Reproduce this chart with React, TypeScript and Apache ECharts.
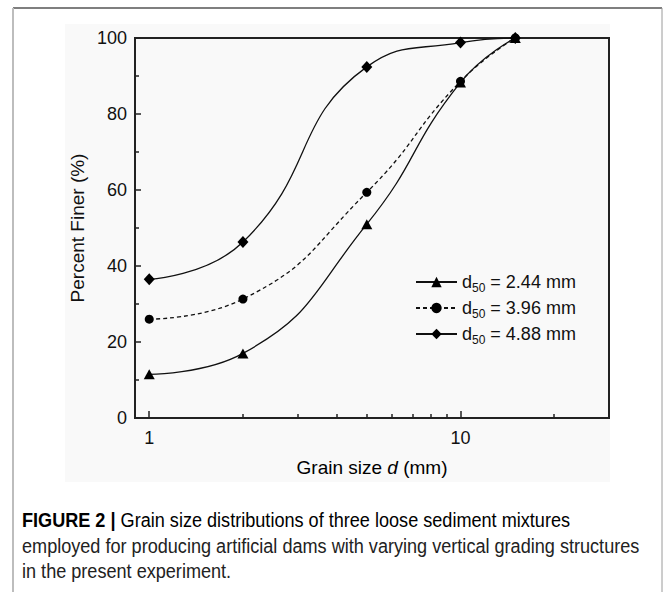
import React, { useEffect, useRef } from "react";
import * as echarts from "echarts";

const grainSizes = [1, 2, 5, 10, 15];
const finer244 = [11.5, 17.0, 51.0, 88.3, 100];
const finer396 = [26.0, 31.3, 59.4, 88.6, 100];
const finer488 = [36.5, 46.3, 92.4, 98.8, 100];
const seriesNames = ["d50 = 2.44 mm", "d50 = 3.96 mm", "d50 = 4.88 mm"];
const legendValues = ["2.44", "3.96", "4.88"];
const xMajorTicks = [1, 10];
const xMinorTicks = [2, 3, 4, 5, 6, 7, 8, 9, 20];
const captionLines = [
  "Grain size distributions of three loose sediment mixtures",
  "employed for producing artificial dams with varying vertical grading structures",
  "in the present experiment.",
];

const FONT = "'Liberation Sans', Arial, Helvetica, sans-serif";
const CAPTION_SCALE_X = 0.905;

export default function App() {
  const ref = useRef<HTMLDivElement>(null);
  useEffect(() => {
    if (!ref.current) return;
    const chart = echarts.init(ref.current, undefined, { renderer: "svg" });
    const toPairs = (vals: number[]) => grainSizes.map((g, i) => [g, vals[i]]);
    const lineCommon = (name: string, vals: number[], symbol: string, size: any, dashed: boolean) => ({
      name,
      type: "line",
      xAxisIndex: 0,
      yAxisIndex: 0,
      data: toPairs(vals),
      smooth: 0.5,
      symbol,
      symbolSize: size,
      itemStyle: { color: "#000" },
      lineStyle: { color: "#111", width: 1.3, type: dashed ? [4, 3] : "solid" },
      z: 3,
    });
    const option: any = {
      animation: false,
      backgroundColor: "#ffffff",
      textStyle: { fontFamily: FONT },
      graphic: [
        { type: "rect", z: -100, silent: true, shape: { x: 65, y: 24, width: 545, height: 458 }, style: { fill: "#f9f9f9" } },
        { type: "line", z: 10, shape: { x1: 13, y1: 8, x2: 662, y2: 8 }, style: { stroke: "#555", lineWidth: 1.5 } },
        { type: "line", z: 10, shape: { x1: 13, y1: 8, x2: 13, y2: 592 }, style: { stroke: "#bdbdbd", lineWidth: 2 } },
        { type: "line", z: 10, shape: { x1: 662, y1: 8, x2: 662, y2: 592 }, style: { stroke: "#9a9a9a", lineWidth: 1 } },
        {
          type: "text",
          x: 77,
          y: 228,
          rotation: Math.PI / 2,
          style: { text: "Percent Finer (%)", font: `19px ${FONT}`, fill: "#111", textAlign: "center", textVerticalAlign: "middle" },
        },
        {
          type: "text",
          x: 372,
          y: 467,
          style: {
            text: "{n|Grain size }{i|d}{n| (mm)}",
            textAlign: "center",
            textVerticalAlign: "middle",
            rich: {
              n: { fontSize: 19, fontFamily: FONT, color: "#111" },
              i: { fontSize: 19, fontFamily: FONT, fontStyle: "italic", color: "#111" },
            },
          },
        },
        {
          type: "text",
          x: 22,
          y: 520,
          scaleX: CAPTION_SCALE_X,
          style: {
            text: "{b|FIGURE 2 | }{n|" + captionLines[0] + "}",
            textVerticalAlign: "middle",
            rich: {
              b: { fontSize: 20, fontWeight: "bold", fontFamily: FONT, color: "#111" },
              n: { fontSize: 20, fontFamily: FONT, color: "#222" },
            },
          },
        },
        { type: "text", x: 22, y: 546, scaleX: CAPTION_SCALE_X, style: { text: captionLines[1], font: `20px ${FONT}`, fill: "#222", textVerticalAlign: "middle" } },
        { type: "text", x: 22, y: 571, scaleX: CAPTION_SCALE_X, style: { text: captionLines[2], font: `20px ${FONT}`, fill: "#222", textVerticalAlign: "middle" } },
      ],
      grid: {
        left: 135,
        top: 38,
        width: 474,
        height: 380,
        show: true,
        borderColor: "#222",
        borderWidth: 2,
        backgroundColor: "transparent",
        containLabel: false,
      },
      legend: {
        orient: "vertical",
        left: 415,
        top: 270,
        padding: 0,
        itemWidth: 41,
        itemHeight: 13,
        itemGap: 2,
        data: seriesNames,
        formatter: (name: string) => {
          const idx = seriesNames.indexOf(name);
          return "{a|d}{s|50}{a| = " + legendValues[idx] + " mm}";
        },
        textStyle: {
          lineHeight: 24,
          rich: {
            a: { fontSize: 18, fontFamily: FONT, color: "#111", lineHeight: 24 },
            s: { fontSize: 12, fontFamily: FONT, color: "#111", verticalAlign: "bottom", lineHeight: 24 },
          },
        },
      },
      xAxis: [
        {
          type: "log",
          logBase: 10,
          min: 0.9,
          max: 30,
          position: "bottom",
          axisLine: { show: true, lineStyle: { color: "#222", width: 2 } },
          axisTick: { show: true, inside: true, length: 7, customValues: xMajorTicks, lineStyle: { color: "#222", width: 1.5 } },
          axisLabel: { show: true, customValues: xMajorTicks, fontSize: 18, color: "#111", margin: 11, fontFamily: FONT },
          splitLine: { show: false },
          minorTick: { show: false },
        },
        {
          type: "log",
          logBase: 10,
          min: 0.9,
          max: 30,
          position: "bottom",
          axisLine: { show: false },
          axisTick: { show: true, inside: true, length: 4, customValues: xMinorTicks, lineStyle: { color: "#222", width: 1.5 } },
          axisLabel: { show: false },
          splitLine: { show: false },
        },
      ],
      yAxis: [
        {
          type: "value",
          min: 0,
          max: 100,
          interval: 20,
          axisLine: { show: true, lineStyle: { color: "#222", width: 2 } },
          axisTick: { show: true, inside: true, length: 6, lineStyle: { color: "#222", width: 1.5 } },
          minorTick: { show: true, splitNumber: 2, length: 4, lineStyle: { color: "#222", width: 1.5 } },
          axisLabel: { fontSize: 18, color: "#111", margin: 8, fontFamily: FONT },
          splitLine: { show: false },
        },
      ],
      series: [
        lineCommon(seriesNames[0], finer244, "triangle", [11, 10], false),
        lineCommon(seriesNames[1], finer396, "circle", 9, true),
        lineCommon(seriesNames[2], finer488, "diamond", [11, 12], false),
      ],
    };
    chart.setOption(option);
    return () => chart.dispose();
  }, []);
  return <div ref={ref} style={{ position: "fixed", left: 0, top: 0, width: 663, height: 592 }} />;
}
